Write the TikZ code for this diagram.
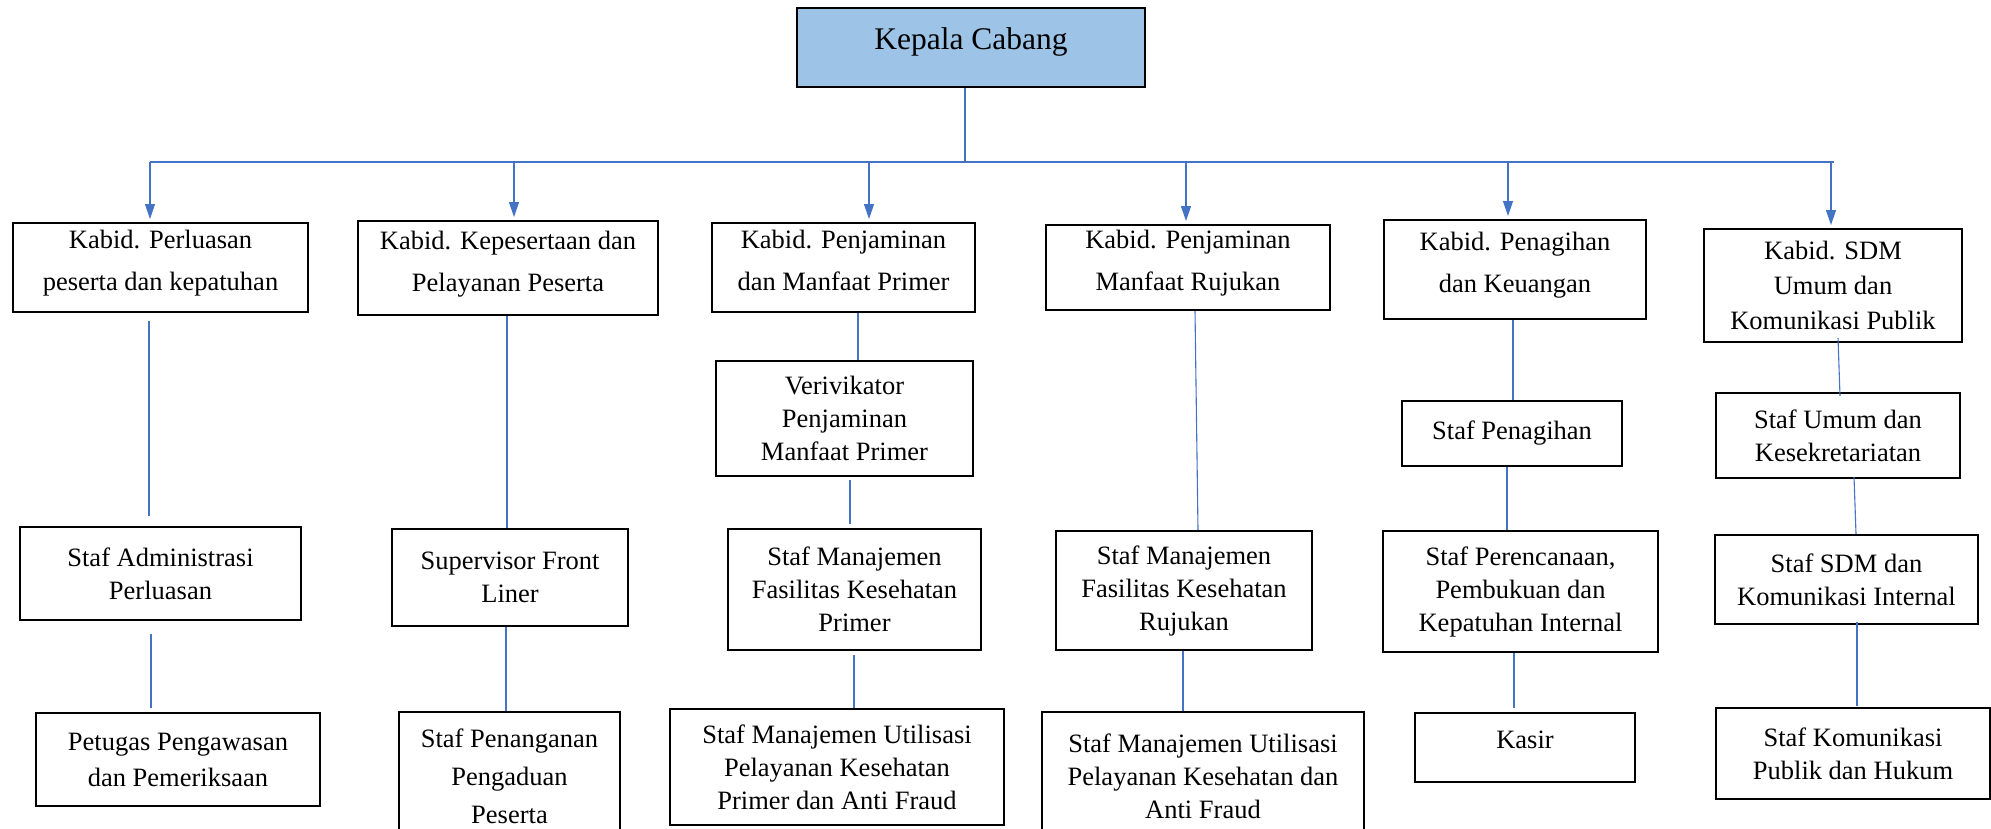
\documentclass[tikz,border=0pt]{standalone}
\usepackage{fontspec}
\setmainfont{Liberation Serif}
\usetikzlibrary{arrows.meta,calc}
\definecolor{lineblue}{HTML}{4472C4}
\definecolor{headfill}{HTML}{9DC3E6}
\begin{document}
\begin{tikzpicture}[x=1pt,y=-1pt,
  box/.style={draw=black,line width=2pt,align=center,inner sep=0pt,
    font=\fontsize{26.5}{33}\selectfont},
  wide/.style={font=\fontsize{26.5}{42}\selectfont,text depth=14pt},
  conn/.style={draw=lineblue,line width=1.1pt},
  bus/.style={draw=lineblue,line width=2pt},
  arr/.style={draw=lineblue,line width=1.1pt,-{Triangle[length=15pt,width=10pt]},shorten >=3pt}]
\useasboundingbox (0,0) rectangle (1991,828);
% head
\node[box,fill=headfill,minimum width=348pt,minimum height=79pt,font=\fontsize{31.5}{36}\selectfont,text depth=18pt] (K) at (971,47.5) {Kepala Cabang};
% row 1
\node[box,wide,minimum width=295pt,minimum height=89pt] (a1) at (160.5,267.5) {Kabid. Perluasan\\peserta dan kepatuhan};
\node[box,wide,minimum width=300pt,minimum height=94pt] (b1) at (508,268) {Kabid. Kepesertaan dan\\Pelayanan Peserta};
\node[box,wide,minimum width=263pt,minimum height=89pt] (c1) at (843.5,267.5) {Kabid. Penjaminan\\dan Manfaat Primer};
\node[box,wide,minimum width=284pt,minimum height=85pt] (d1) at (1188,267.5) {Kabid. Penjaminan\\Manfaat Rujukan};
\node[box,wide,minimum width=262pt,minimum height=99pt] (e1) at (1515,269.5) {Kabid. Penagihan\\dan Keuangan};
\node[box,minimum width=258pt,minimum height=113pt,font=\fontsize{26.5}{35}\selectfont] (f1) at (1833,285.5) {Kabid. SDM\\Umum dan\\Komunikasi Publik};
% row 2
\node[box,minimum width=257pt,minimum height=115pt] (c2) at (844.5,418.5) {Verivikator\\Penjaminan\\Manfaat Primer};
\node[box,minimum width=220pt,minimum height=65pt] (e2) at (1512,433.5) {Staf Penagihan};
\node[box,minimum width=244pt,minimum height=85pt] (f2) at (1838,435.5) {Staf Umum dan\\Kesekretariatan};
% row 3
\node[box,minimum width=281pt,minimum height=93pt] (a3) at (160.5,573.5) {Staf Administrasi\\Perluasan};
\node[box,minimum width=236pt,minimum height=97pt] (b3) at (510,577.5) {Supervisor Front\\Liner};
\node[box,minimum width=253pt,minimum height=121pt] (c3) at (854.5,589.5) {Staf Manajemen\\Fasilitas Kesehatan\\Primer};
\node[box,minimum width=256pt,minimum height=119pt] (d3) at (1184,590.5) {Staf Manajemen\\Fasilitas Kesehatan\\Rujukan};
\node[box,minimum width=275pt,minimum height=121pt] (e3) at (1520.5,591.5) {Staf Perencanaan,\\Pembukuan dan\\Kepatuhan Internal};
\node[box,minimum width=263pt,minimum height=89pt] (f3) at (1846.5,579.5) {Staf SDM dan\\Komunikasi Internal};
% row 4
\node[box,minimum width=284pt,minimum height=93pt,font=\fontsize{26.5}{36}\selectfont] (a4) at (178,759.5) {Petugas Pengawasan\\dan Pemeriksaan};
\node[box,minimum width=221pt,minimum height=128pt,font=\fontsize{26.5}{38}\selectfont] (b4) at (509.5,776) {Staf Penanganan\\Pengaduan\\Peserta};
\node[box,minimum width=334pt,minimum height=116pt] (c4) at (837,767) {Staf Manajemen Utilisasi\\Pelayanan Kesehatan\\Primer dan Anti Fraud};
\node[box,minimum width=322pt,minimum height=128pt] (d4) at (1203,776) {Staf Manajemen Utilisasi\\Pelayanan Kesehatan dan\\Anti Fraud};
\node[box,minimum width=220pt,minimum height=69pt,text depth=16pt] (e4) at (1525,747.5) {Kasir};
\node[box,minimum width=274pt,minimum height=91pt] (f4) at (1853,753.5) {Staf Komunikasi\\Publik dan Hukum};
% bus
\coordinate (hub) at (965,162);
\coordinate (bus1) at (150,162);
\coordinate (bus2) at (514,162);
\coordinate (bus3) at (869,162);
\coordinate (bus4) at (1186,162);
\coordinate (bus5) at (1508,162);
\coordinate (bus6) at (1831,162);
\draw[bus] ($(K.south)+(-6,0)$) -- (hub);
\draw[bus] (bus1) -- ($(bus6)+(3,0)$);
\draw[arr] (bus1) -- (bus1 |- a1.north);
\draw[arr] (bus2) -- (bus2 |- b1.north);
\draw[arr] (bus3) -- (bus3 |- c1.north);
\draw[arr] (bus4) -- (bus4 |- d1.north);
\draw[arr] (bus5) -- (bus5 |- e1.north);
\draw[arr] (bus6) -- (bus6 |- f1.north);
% column connectors
\draw[conn] ($(a1.south)+(-11.5,8)$) -- ($(a3.north)+(-11.5,-10)$);
\draw[conn] ($(a3.south)+(-9.5,13)$) -- ($(a4.north)+(-27,-4)$);
\draw[conn] ($(b1.south)+(-1,0)$) -- ($(b3.north)+(-3,0)$);
\draw[conn] ($(b3.south)+(-4,0)$) -- ($(b4.north)+(-3.5,0)$);
\draw[conn] ($(c1.south)+(14.5,0)$) -- ($(c2.north)+(13.5,0)$);
\draw[conn] ($(c2.south)+(5.5,3)$) -- ($(c3.north)+(-4.5,-4)$);
\draw[conn] ($(c3.south)+(-0.5,4)$) -- ($(c4.north)+(17,0)$);
\draw[conn] ($(d1.south)+(7,0)$) -- ($(d3.north)+(14,0)$);
\draw[conn] ($(d3.south)+(-1,0)$) -- ($(d4.north)+(-20,0)$);
\draw[conn] ($(e1.south)+(-2,0)$) -- ($(e2.north)+(1,0)$);
\draw[conn] ($(e2.south)+(-5,0)$) -- ($(e3.north)+(-13.5,0)$);
\draw[conn] ($(e3.south)+(-6.5,0)$) -- ($(e4.north)+(-11,-4)$);
\draw[conn] ($(f1.south)+(5,-5)$) -- ($(f2.north)+(2,4)$);
\draw[conn] ($(f2.south)+(16,-2)$) -- ($(f3.north)+(9.5,0)$);
\draw[conn] ($(f3.south)+(10.5,-3)$) -- ($(f4.north)+(4,-1)$);
\end{tikzpicture}
\end{document}
